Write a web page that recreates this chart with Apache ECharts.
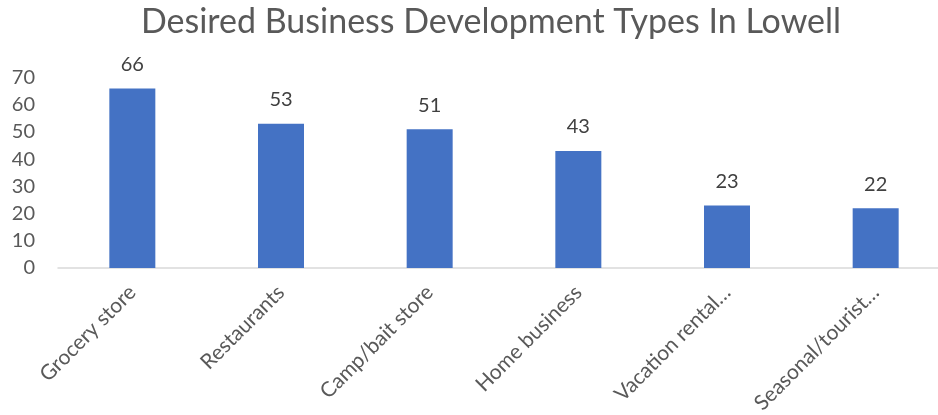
<!DOCTYPE html>
<html><head><meta charset="utf-8">
<script src="https://cdn.jsdelivr.net/npm/echarts@6/dist/echarts.min.js"></script>
<style>html,body{margin:0;padding:0;background:#fff}#c{width:938px;height:415px}</style>
</head><body><div id="c"></div>
<script>
const categories = ["Grocery store","Restaurants","Camp/bait store","Home business","Vacation rental…","Seasonal/tourist…"];
const values = [66,53,51,43,23,22];
const yTicks = {min:0,max:70,interval:10};
const font = 'Lato, "Open Sans", sans-serif';
const chart = echarts.init(document.getElementById('c'));
chart.setOption({
  animation:false,
  title:{text:"Desired Business Development Types In Lowell",left:486,textAlign:'center',top:0,
    textStyle:{fontFamily:font,fontSize:34,fontWeight:'normal',color:'#595959'}},
  grid:{left:58,width:892,top:77.5,bottom:147,containLabel:false,outerBoundsMode:'none'},
  xAxis:{type:'category',data:categories,
    axisLine:{lineStyle:{color:'#d9d9d9',width:1.5}},axisTick:{show:false},
    axisLabel:{rotate:45,interval:0,margin:21,fontFamily:font,fontSize:21,color:'#595959'}},
  yAxis:{type:'value',min:yTicks.min,max:yTicks.max,interval:yTicks.interval,
    splitLine:{show:false},axisLine:{show:false},axisTick:{show:false},
    axisLabel:{margin:23,fontFamily:font,fontSize:20,color:'#595959'}},
  series:[{type:'bar',data:values,barWidth:46,itemStyle:{color:'#4472C4'},
    label:{show:true,position:'top',distance:14,fontFamily:font,fontSize:20,color:'#404040'}}]
});
</script></body></html>
